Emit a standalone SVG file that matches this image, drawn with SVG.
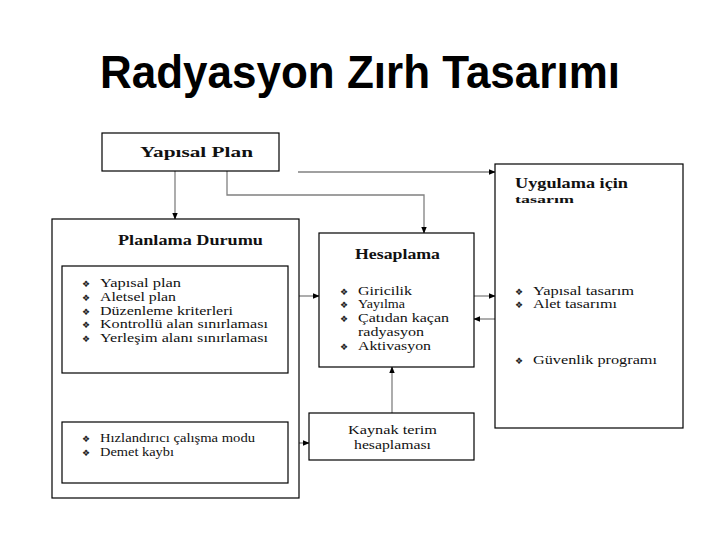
<svg xmlns="http://www.w3.org/2000/svg" width="720" height="540" viewBox="0 0 720 540">
<defs>
<marker id="ah" viewBox="0 0 10 10" refX="9" refY="5" markerWidth="7" markerHeight="7" orient="auto" markerUnits="userSpaceOnUse"><path d="M0,1 L10,5 L0,9 z" fill="#000"/></marker>
<style>
.box{fill:#fff;stroke:#000;stroke-width:1.2}
.t{font-family:"Liberation Serif","Times New Roman",serif;font-size:12px;fill:#111}
.b{font-family:"Liberation Serif","Times New Roman",serif;font-weight:bold;fill:#111}
.bul{font-family:"DejaVu Sans",sans-serif;font-size:9px;fill:#222}
.c{fill:none;stroke:#808080;stroke-width:1.3}
</style>
</defs>
<rect width="720" height="540" fill="#fff"/>
<text x="100" y="88" font-family="Liberation Sans, Arial, sans-serif" font-weight="bold" font-size="46" fill="#000" textLength="520" lengthAdjust="spacingAndGlyphs">Radyasyon Zırh Tasarımı</text>

<g id="connectors">
<path class="c" d="M175,171 V219" marker-end="url(#ah)"/>
<path class="c" d="M227,171 V195 H424 V233" marker-end="url(#ah)"/>
<path class="c" d="M298,172 H495" marker-end="url(#ah)"/>
<path class="c" d="M288,296 H319" marker-end="url(#ah)"/>
<path class="c" d="M474,296 H495" marker-end="url(#ah)"/>
<path class="c" d="M495,319 H474" marker-end="url(#ah)"/>
<path class="c" d="M392,413 V367" marker-end="url(#ah)"/>
<path class="c" d="M288,443 H309" marker-end="url(#ah)"/>
</g>

<g id="yapisal-plan">
<rect class="box" x="102" y="133" width="177" height="38"/>
<text class="b" x="140" y="157" font-size="14" textLength="113" lengthAdjust="spacingAndGlyphs">Yapısal Plan</text>
</g>

<g id="planlama-durumu">
<rect class="box" x="52" y="219" width="247" height="279"/>
<text class="b" x="118" y="245" font-size="15" textLength="145" lengthAdjust="spacingAndGlyphs">Planlama Durumu</text>
</g>

<g id="planlama-liste">
<rect class="box" x="62" y="266" width="226" height="107"/>
<text class="bul" x="82" y="287">❖</text><text class="t" x="100" y="287" textLength="81" lengthAdjust="spacingAndGlyphs">Yapısal plan</text>
<text class="bul" x="82" y="301">❖</text><text class="t" x="100" y="301" textLength="76" lengthAdjust="spacingAndGlyphs">Aletsel plan</text>
<text class="bul" x="82" y="315">❖</text><text class="t" x="100" y="315" textLength="133" lengthAdjust="spacingAndGlyphs">Düzenleme kriterleri</text>
<text class="bul" x="82" y="328">❖</text><text class="t" x="100" y="328" textLength="168" lengthAdjust="spacingAndGlyphs">Kontrollü alan sınırlaması</text>
<text class="bul" x="82" y="342">❖</text><text class="t" x="100" y="342" textLength="168" lengthAdjust="spacingAndGlyphs">Yerleşim alanı sınırlaması</text>
</g>

<g id="hizlandirici">
<rect class="box" x="62" y="422" width="226" height="61"/>
<text class="bul" x="82" y="442">❖</text><text class="t" x="100" y="442" textLength="155" lengthAdjust="spacingAndGlyphs">Hızlandırıcı çalışma modu</text>
<text class="bul" x="82" y="456">❖</text><text class="t" x="100" y="456" textLength="74" lengthAdjust="spacingAndGlyphs">Demet kaybı</text>
</g>

<g id="hesaplama">
<rect class="box" x="319" y="233" width="155" height="134"/>
<text class="b" x="355" y="259" font-size="14" textLength="85" lengthAdjust="spacingAndGlyphs">Hesaplama</text>
<text class="bul" x="340" y="295">❖</text><text class="t" x="358" y="295" textLength="54" lengthAdjust="spacingAndGlyphs">Giricilik</text>
<text class="bul" x="340" y="308">❖</text><text class="t" x="358" y="308" textLength="47" lengthAdjust="spacingAndGlyphs">Yayılma</text>
<text class="bul" x="340" y="322">❖</text><text class="t" x="358" y="322" textLength="91" lengthAdjust="spacingAndGlyphs">Çatıdan kaçan</text>
<text class="t" x="358" y="336" textLength="66" lengthAdjust="spacingAndGlyphs">radyasyon</text>
<text class="bul" x="340" y="350">❖</text><text class="t" x="358" y="350" textLength="73" lengthAdjust="spacingAndGlyphs">Aktivasyon</text>
</g>

<g id="kaynak-terim">
<rect class="box" x="309" y="413" width="165" height="47"/>
<text class="t" x="348" y="434" textLength="89" lengthAdjust="spacingAndGlyphs">Kaynak terim</text>
<text class="t" x="354" y="449" textLength="77" lengthAdjust="spacingAndGlyphs">hesaplaması</text>
</g>

<g id="uygulama">
<rect class="box" x="495" y="164" width="188" height="264"/>
<text class="b" x="515" y="188" font-size="14" textLength="113" lengthAdjust="spacingAndGlyphs">Uygulama için</text>
<text class="b" x="515" y="203" font-size="10.5" textLength="59" lengthAdjust="spacingAndGlyphs">tasarım</text>
<text class="bul" x="515" y="295">❖</text><text class="t" x="533" y="295" textLength="101" lengthAdjust="spacingAndGlyphs">Yapısal tasarım</text>
<text class="bul" x="515" y="308">❖</text><text class="t" x="533" y="308" textLength="84" lengthAdjust="spacingAndGlyphs">Alet tasarımı</text>
<text class="bul" x="515" y="364">❖</text><text class="t" x="533" y="364" textLength="124" lengthAdjust="spacingAndGlyphs">Güvenlik programı</text>
</g>
</svg>
